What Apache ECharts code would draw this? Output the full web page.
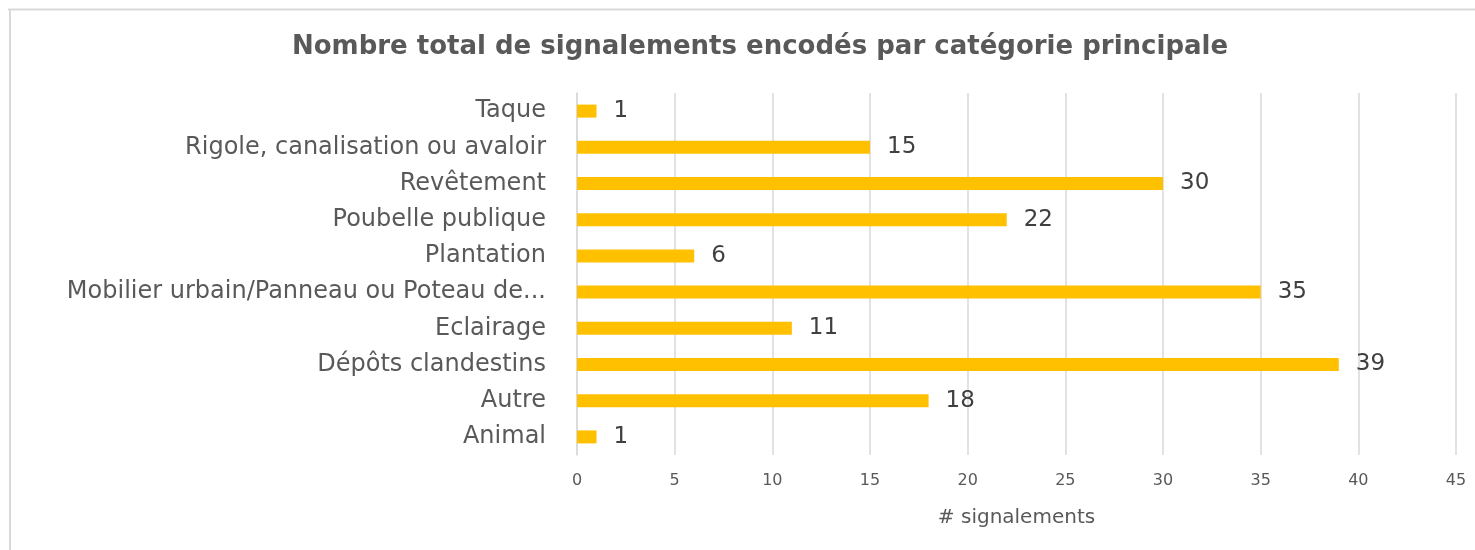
<!DOCTYPE html>
<html><head><meta charset="utf-8">
<script src="https://cdn.jsdelivr.net/npm/echarts@6/dist/echarts.min.js"></script>
<style>html,body{margin:0;padding:0;background:#fff;}#c{width:1475px;height:550px;}</style>
</head><body><div id="c"></div>
<script>
const categories = ["Animal","Autre","Dépôts clandestins","Eclairage","Mobilier urbain/Panneau ou Poteau de...","Plantation","Poubelle publique","Revêtement","Rigole, canalisation ou avaloir","Taque"];
const values = [1,18,39,11,35,6,22,30,15,1];
const xTicks = {min:0,max:45,interval:5};
const titleText = "Nombre total de signalements encodés par catégorie principale";
const xName = "# signalements";
const FONT = "DejaVu Sans";
const chart = echarts.init(document.getElementById('c'));
chart.setOption({
  animation:false,
  backgroundColor:'#ffffff',
  graphic:[
    {type:'line',shape:{x1:8,y1:9.5,x2:1475,y2:9.5},style:{stroke:'#d9d9d9',lineWidth:2}},
    {type:'line',shape:{x1:10,y1:9,x2:10,y2:550},style:{stroke:'#d9d9d9',lineWidth:2}}
  ],
  title:{text:titleText,left:755,top:29,textAlign:'center',
    textStyle:{fontFamily:FONT,fontSize:26,fontWeight:'bold',color:'#595959'}},
  grid:{left:577,right:19,top:93,bottom:95,containLabel:false},
  xAxis:{type:'value',min:xTicks.min,max:xTicks.max,interval:xTicks.interval,
    name:xName,nameLocation:'middle',nameGap:53,
    nameTextStyle:{fontFamily:FONT,fontSize:20,color:'#595959'},
    axisLine:{show:false},axisTick:{show:false},
    axisLabel:{fontFamily:FONT,fontSize:16,color:'#595959',margin:18},
    splitLine:{show:true,lineStyle:{color:'#d9d9d9',width:1.5}}},
  yAxis:{type:'category',data:categories,
    axisLine:{show:true,lineStyle:{color:'#d9d9d9',width:1.5}},axisTick:{show:false},
    axisLabel:{fontFamily:FONT,fontSize:24,color:'#595959',margin:31,padding:[4,0,0,0]}},
  series:[{type:'bar',data:values,barWidth:13,
    itemStyle:{color:'#FFC000'},
    label:{show:true,position:'right',distance:17,fontFamily:FONT,fontSize:23,color:'#404040',padding:[4,0,0,0]}}]
});
</script></body></html>
